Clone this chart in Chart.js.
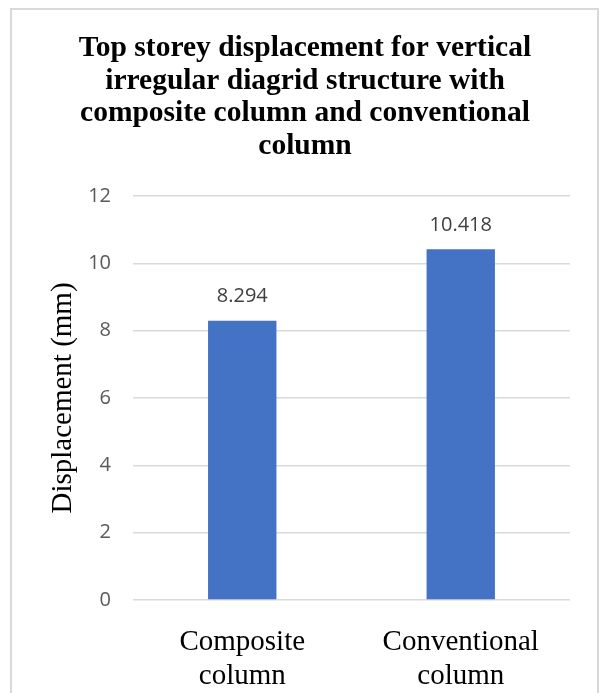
<!DOCTYPE html>
<html>
<head>
<meta charset="utf-8">
<script src="https://cdn.jsdelivr.net/npm/chart.js@4.4.1/dist/chart.umd.min.js"></script>
<style>
  html, body { margin: 0; padding: 0; background: #ffffff; }
  #wrap { position: relative; width: 602px; height: 693px; overflow: hidden; }
  #frame { position: absolute; left: 10px; top: 8px; width: 589px; height: 720px; border: 2px solid #d9d9d9; box-sizing: border-box; }
  #c { position: absolute; left: 0; top: 0; }
</style>
</head>
<body>
<div id="wrap">
  <div id="frame"></div>
  <canvas id="c" width="602" height="693"></canvas>
</div>
<script>
// ---- data ----
const titleLines = [
  'Top storey displacement for vertical',
  'irregular diagrid structure with',
  'composite column and conventional',
  'column'
];
const categories = [['Composite', 'column'], ['Conventional', 'column']];
const displacement = [8.294, 10.418];
const yAxisTitle = 'Displacement (mm)';
const yMin = 0, yMax = 12, yStep = 2;

// ---- value labels plugin ----
const valueLabels = {
  id: 'valueLabels',
  afterDatasetsDraw(chart) {
    const ctx = chart.ctx;
    const meta = chart.getDatasetMeta(0);
    ctx.save();
    ctx.font = '20px "Open Sans"';
    ctx.fillStyle = '#404040';
    ctx.textAlign = 'center';
    ctx.textBaseline = 'middle';
    meta.data.forEach((bar, i) => {
      ctx.fillText(String(chart.data.datasets[0].data[i]), bar.x, bar.y - 24);
    });
    ctx.restore();
  }
};

new Chart(document.getElementById('c'), {
  type: 'bar',
  data: {
    labels: categories,
    datasets: [{
      data: displacement,
      backgroundColor: '#4472C4',
      borderWidth: 0,
      categoryPercentage: 1.0,
      barPercentage: 0.313
    }]
  },
  options: {
    responsive: false,
    animation: false,
    devicePixelRatio: 1,
    layout: { padding: { left: 40, right: 32, top: 0, bottom: 0 } },
    plugins: {
      legend: { display: false },
      tooltip: { enabled: false },
      title: {
        display: true,
        text: titleLines,
        color: '#000000',
        font: { family: '"Liberation Serif", "Times New Roman", serif', size: 29.5, weight: 'bold', lineHeight: 1.11 },
        padding: { top: 32, bottom: 33 }
      }
    },
    scales: {
      x: {
        grid: { display: false },
        border: { display: false },
        ticks: {
          color: '#000000',
          padding: 17,
          font: { family: '"Liberation Serif", "Times New Roman", serif', size: 29, lineHeight: 1.17 }
        },
        afterFit(scale) { scale.height = 93; }
      },
      y: {
        min: yMin,
        max: yMax,
        grid: { color: '#d9d9d9', lineWidth: 1.5, drawTicks: false },
        border: { display: false },
        ticks: {
          stepSize: yStep,
          color: '#595959',
          padding: 22,
          font: { family: '"Open Sans", sans-serif', size: 20 }
        },
        title: {
          display: true,
          text: yAxisTitle,
          color: '#000000',
          font: { family: '"Liberation Serif", "Times New Roman", serif', size: 29, lineHeight: 1.17 },
          padding: { top: 6, bottom: 0 }
        },
        afterFit(scale) { scale.width = 93; }
      }
    }
  },
  plugins: [valueLabels]
});
</script>
</body>
</html>
